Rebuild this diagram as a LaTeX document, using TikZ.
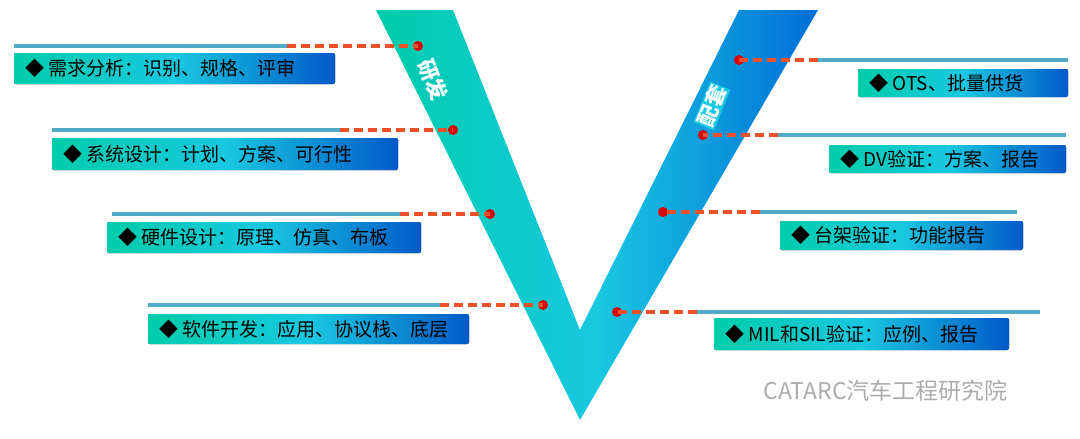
\documentclass[tikz,border=0pt]{standalone}
\usepackage{fontspec}
\setmainfont{Noto Sans CJK SC}
\usetikzlibrary{shadings}
\definecolor{teal1}{RGB}{0,205,170}
\definecolor{cyan1}{RGB}{25,200,225}
\definecolor{blue1}{RGB}{0,90,200}
\definecolor{vblue}{RGB}{0,110,215}
\definecolor{lineb}{RGB}{80,170,200}
\definecolor{dashr}{RGB}{235,80,40}
\tikzset{
 x=1pt,y=-1pt,
 box/.style={rounded corners=2pt,left color=teal1,right color=blue1,middle color=cyan1,draw=none},
 lbl/.style={font=\fontsize{19}{19}\selectfont,anchor=west},
 bar/.style={lineb,line width=3.5pt},
 dsh/.style={dashr,line width=3.5pt,dash pattern=on 9pt off 5pt},
 dot/.style={circle,fill=red!85!black,minimum size=10pt,inner sep=0pt},
 vlab/.style={text=white,inner sep=1pt,font=\bfseries\fontsize{21}{21}\selectfont},
}
\begin{document}
\begin{tikzpicture}
\useasboundingbox (0,0) rectangle (1080,439);
% V
\shade[left color=teal1,right color=vblue,middle color=cyan1]
 (376,10) -- (453,10) -- (580,330) -- (739,10) -- (818,10) -- (580,420) -- cycle;
\node[vlab,fill=teal1!70!cyan1,rotate=-68] (yf) at (433,80) {研发};
\node[vlab,fill=cyan1,rotate=68] (pt) at (712,106) {配套};
% left items
\foreach \n/\ya/\xa/\xb/\xd/\bx/\by/\bw/\bh/\t in {
 a/46/14/287/418/14/53/321/31/需求分析：识别、规格、评审,
 b/130/52/340/453/52/138/346/32/系统设计：计划、方案、可行性,
 c/214/112/400/490/107/222/314/31/硬件设计：原理、仿真、布板,
 d/305/148/440/543/148/314/321/30/软件开发：应用、协议栈、底层}{
 \coordinate (s\n) at (\xa,\ya);
 \coordinate (m\n) at (\xb,\ya);
 \node[dot] (p\n) at (\xd,\ya) {};
 \draw[bar] (s\n) -- (m\n);
 \draw[dsh] (m\n) -- (p\n.center);
 \fill[box] (\bx,\by) rectangle ++(\bw,\bh);
 \node[lbl] (t\n) at (\bx+8,\by+\bh/2) {◆ \t};
}
% right items
\foreach \n/\ya/\xa/\xb/\xd/\bx/\by/\bw/\bh/\t in {
 e/60/1068/818/739/858/69/210/28/OTS、批量供货,
 f/135/1066/778/703/829/145/237/28/DV验证：方案、报告,
 g/212/1017/760/663/780/221/243/29/台架验证：功能报告,
 h/312/1040/697/617/714/318/295/32/MIL和SIL验证：应例、报告}{
 \coordinate (s\n) at (\xa,\ya);
 \coordinate (m\n) at (\xb,\ya);
 \node[dot] (p\n) at (\xd,\ya) {};
 \draw[bar] (s\n) -- (m\n);
 \draw[dsh] (m\n) -- (p\n.center);
 \fill[box] (\bx,\by) rectangle ++(\bw,\bh);
 \node[lbl] (t\n) at (\bx+8,\by+\bh/2) {◆ \t};
}
\node[anchor=west,text=gray!65,font=\fontsize{23}{23}\selectfont] (wm) at (760,391) {CATARC汽车工程研究院};
\end{tikzpicture}
\end{document}
